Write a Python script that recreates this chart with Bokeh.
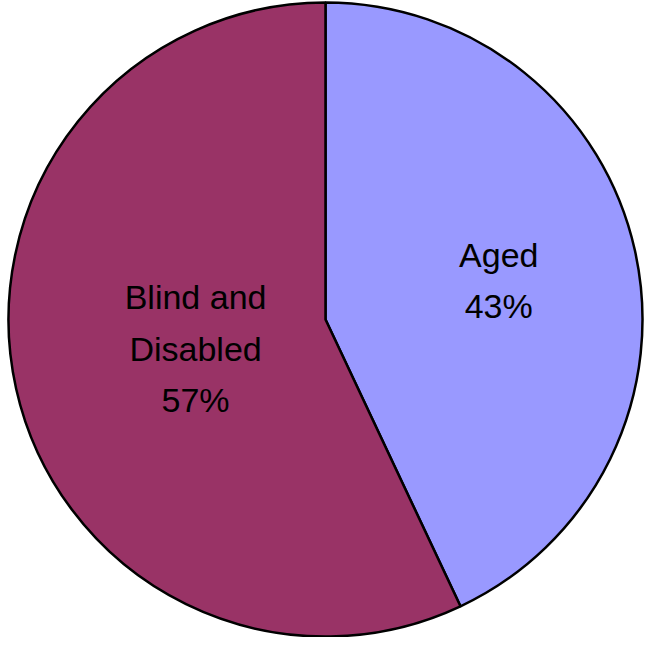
import math
from bokeh.plotting import figure
from bokeh.models import ColumnDataSource
from bokeh.core.properties import value
from bokeh.embed import file_html
from bokeh.resources import INLINE

# Data
categories = ["Aged", "Blind and\nDisabled"]
shares = [43, 57]
colors = ["#9999FF", "#993366"]

W, H = 644, 637
cx, cy = 325, 637 - 319
R = 317
label_r = [0.56, 0.42]

total = sum(shares)
starts, ends, lx, ly, labels = [], [], [], [], []
ang = math.pi / 2
for c, s, lr in zip(categories, shares, label_r):
    sweep = 2 * math.pi * s / total
    a0, a1 = ang - sweep, ang
    starts.append(a0)
    ends.append(a1)
    mid = (a0 + a1) / 2
    lx.append(cx + lr * R * math.cos(mid))
    ly.append(cy + lr * R * math.sin(mid))
    labels.append(f"{c}\n{s}%")
    ang = a0

src = ColumnDataSource(dict(start=starts, end=ends, color=colors,
                            lx=lx, ly=ly, label=labels))

p = figure(width=W, height=H, x_range=(0, W), y_range=(0, H),
           output_backend="svg", toolbar_location=None, min_border=0)
p.axis.visible = False
p.grid.visible = False
p.outline_line_color = None
p.background_fill_color = "white"

p.wedge(x=cx, y=cy, radius=R, start_angle="start", end_angle="end",
        fill_color="color", line_color="black", line_width=2.5, source=src)

p.text(x="lx", y="ly", text="label", source=src,
       text_font=value("Liberation Sans"), text_font_size="34px",
       text_align="center", text_baseline="middle", text_color="black",
       text_line_height=1.35)

open("out.html", "w").write(file_html(p, INLINE))
